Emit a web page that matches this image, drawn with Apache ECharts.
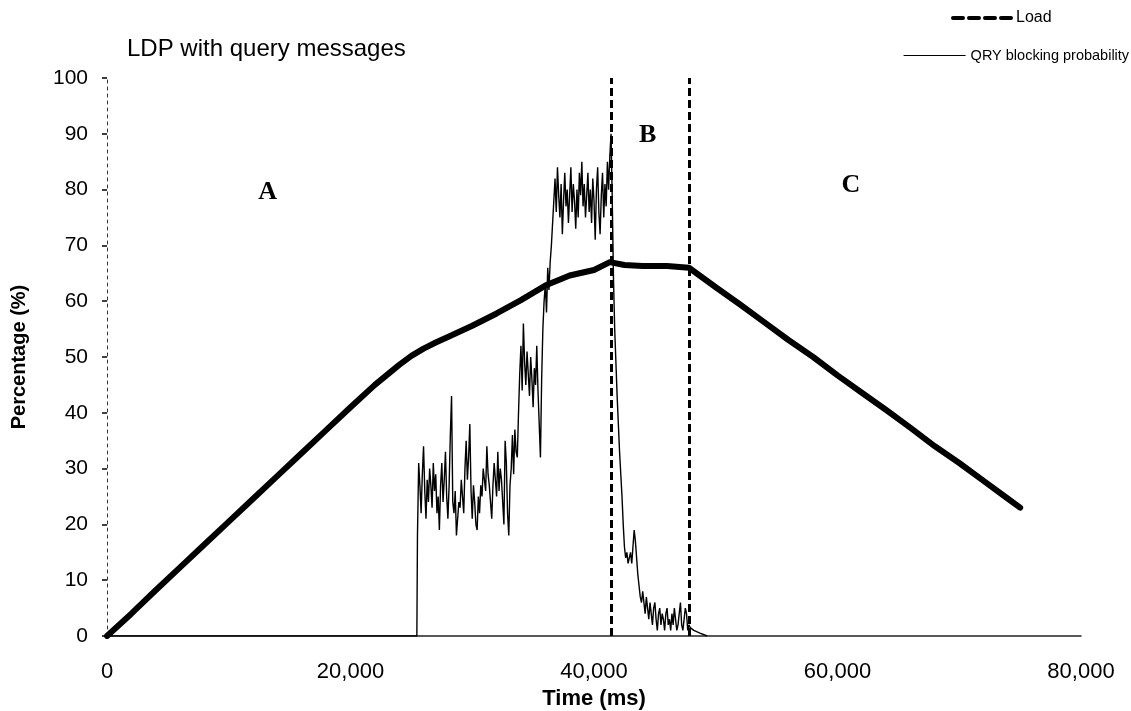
<!DOCTYPE html>
<html>
<head>
<meta charset="utf-8">
<script src="https://cdn.jsdelivr.net/npm/echarts@6/dist/echarts.min.js"></script>
<style>
html,body{margin:0;padding:0;background:#fff;}
#chart{width:1131px;height:711px;}
</style>
</head>
<body>
<div id="chart"></div>
<script>
// ---- Data ----
var loadTime = [0,2000,4000,6000,8000,10000,12000,14000,16000,18000,20000,22000,24000,25000,26000,27000,28000,30000,32000,34000,36000,38000,40000,41300,42500,44000,46000,47800,50000,52000,54000,56000,58000,60000,62000,64000,66000,68000,70000,72000,74000,75000];
var loadValue = [0,4,8.2,12.3,16.4,20.5,24.6,28.7,32.8,36.9,41,45,48.6,50.2,51.5,52.6,53.6,55.6,57.8,60.2,62.8,64.6,65.6,67,66.5,66.3,66.3,66,62.5,59.4,56.2,53,50,46.7,43.6,40.5,37.3,34,31,27.8,24.6,23];

var qryTime = [0,25450,25500,25600,25700,25800,25900,26000,26100,26200,26300,26400,26500,26600,26700,26800,26900,27000,27100,27200,27300,27400,27500,27600,27700,27800,27900,28000,28100,28200,28300,28400,28500,28600,28700,28800,28900,29000,29100,29200,29300,29400,29500,29600,29700,29800,29900,30000,30100,30200,30300,30400,30500,30600,30700,30800,30900,31000,31100,31200,31300,31400,31500,31600,31700,31800,31900,32000,32100,32200,32300,32400,32500,32600,32700,32800,32900,33000,33100,33200,33300,33400,33500,33600,33700,
33800,33900,34000,34100,34200,34300,34400,34500,34600,34700,34800,34900,35000,35100,35200,35300,35400,35500,35600,35700,35800,35900,36000,36100,36200,36300,36400,36500,
36600,36700,36800,36900,37000,37100,37200,37300,37400,37500,37600,37700,37800,37900,38000,38100,38200,38300,38400,38500,38600,38700,38800,38900,39000,39100,39200,39300,39400,39500,39600,39700,39800,39900,40000,40100,40200,40300,40400,40500,40600,40700,40800,40900,41000,41100,41200,41300,41400,
41500,41600,41700,41800,41900,42000,42100,42200,42300,42400,42500,42600,42700,42800,42900,43000,43100,43200,43300,43400,43500,43600,43700,43800,43900,44000,44100,44200,44300,44400,44500,44600,44700,44800,44900,45000,45100,45200,45300,45400,45500,45600,45700,45800,45900,46000,46100,46200,46300,46400,46500,46600,46700,46800,46900,47000,47100,47200,47300,47400,47500,47600,47700,47800,47900,48200,48700,49300];
var qryValue = [0,0,18,31,27,22,29,34,26,21,28,24,30,27,23,31,26,29,22,25,19,27,31,24,28,33,25,21,27,36,43,24,22,26,18,21,24,23,28,25,22,30,35,28,32,38,26,21,27,24,20,19,25,22,27,25,30,28,26,34,29,27,24,21,27,31,28,25,33,26,30,28,24,20,35,31,22,18,27,30,36,29,37,33,32,
40,47,52,44,56,49,45,51,47,43,50,46,41,48,45,52,44,38,32,46,55,60,63,58,66,62,67,70,
74,78,82,76,84,79,75,81,72,78,83,77,80,74,79,84,76,81,78,73,80,75,83,79,85,77,81,75,79,83,76,80,74,82,78,71,80,84,76,72,79,83,75,81,77,85,80,86,90,
78,64,55,49,43,38,33,29,25,20,16,14,15,13,14,15,13,16,19,17,14,11,9,7,6,8,6,4,7,5,3,6,4,2,5,6,3,1,4,5,2,4,3,1,4,5,2,3,1,4,2,5,3,1,2,4,6,2,1,3,5,4,1,2,1.5,1,0.5,0];

var phaseBounds = [41400, 47800];
var regionNames = ['A','B','C'];
var regionTime = [13200, 44400, 61100];
var regionValue = [79.6, 89.8, 80.8];

var xTicks = [0, 20000, 40000, 60000, 80000];

// ---- Build ----
function zip(a, b){ return a.map(function(v,i){ return [v, b[i]]; }); }

var chart = echarts.init(document.getElementById('chart'), null, {renderer:'canvas'});
var font = 'Liberation Sans, Arial, sans-serif';
chart.setOption({
  animation: false,
  backgroundColor: '#fff',
  color: ['#000', '#000', '#000'],
  title: {
    text: 'LDP with query messages',
    left: 122, top: 32,
    textStyle: {fontFamily: font, fontSize: 24, fontWeight: 'normal', color: '#000'}
  },
  legend: [
    {
      data: [{name: 'Load', lineStyle: {type: [10,6], width: 4, color: '#000'}, itemStyle: {opacity: 0, borderWidth: 0}}],
      left: 946, top: 5, itemWidth: 58, itemHeight: 14,
      textStyle: {fontFamily: font, fontSize: 16, color: '#000'}
    },
    {
      data: [{name: 'QRY blocking probability', lineStyle: {width: 1.2, color: '#000'}, itemStyle: {opacity: 0, borderWidth: 0}}],
      left: 898, top: 43, itemWidth: 62, itemHeight: 14,
      textStyle: {fontFamily: font, fontSize: 14.5, color: '#000'}
    }
  ],
  grid: {left: 107, right: 50, top: 78, bottom: 75, outerBoundsMode: 'none', containLabel: false},
  xAxis: {
    type: 'value', min: 0, max: 80000, interval: 20000,
    name: 'Time (ms)', nameLocation: 'middle', nameGap: 47,
    nameTextStyle: {fontFamily: font, fontSize: 22, fontWeight: 'bold', color: '#000'},
    axisLine: {show: true, lineStyle: {color: '#222', width: 1.5}},
    axisTick: {show: false},
    splitLine: {show: false},
    axisLabel: {
      fontFamily: font, fontSize: 22, color: '#000', margin: 25,
      formatter: function(v){ return xTicks.indexOf(v) >= 0 ? v.toLocaleString('en-US') : ''; }
    }
  },
  yAxis: {
    type: 'value', min: 0, max: 100, interval: 10,
    name: 'Percentage (%)', nameLocation: 'middle', nameGap: 78,
    nameTextStyle: {fontFamily: font, fontSize: 20, fontWeight: 'bold', color: '#000'},
    axisLine: {show: true, lineStyle: {color: '#333', width: 1, type: [3,4]}},
    axisTick: {show: true, length: 5, lineStyle: {color: '#000', width: 1.5}},
    splitLine: {show: false},
    axisLabel: {fontFamily: font, fontSize: 21, color: '#000', margin: 19}
  },
  series: [
    {
      name: 'Load', type: 'line', data: zip(loadTime, loadValue),
      showSymbol: false, symbol: 'none',
      lineStyle: {color: '#000', width: 6, join: 'round', cap: 'round'}, z: 3
    },
    {
      name: 'QRY blocking probability', type: 'line', data: zip(qryTime, qryValue),
      showSymbol: false, symbol: 'none',
      lineStyle: {color: '#000', width: 1.4}, z: 4,
      markLine: {
        silent: true, symbol: 'none',
        label: {show: false},
        lineStyle: {color: '#000', width: 3, type: [8,4]},
        data: phaseBounds.map(function(t){ return {xAxis: t}; })
      }
    },
    {
      name: 'regions', type: 'scatter', symbolSize: 0,
      data: regionTime.map(function(t,i){ return {value: [t, regionValue[i]], name: regionNames[i]}; }),
      label: {
        show: true, position: 'inside',
        formatter: function(p){ return p.name; },
        fontFamily: 'Liberation Serif, Times New Roman, serif',
        fontSize: 26, fontWeight: 'bold', color: '#000',
        textBorderWidth: 0, opacity: 1
      },
      itemStyle: {opacity: 1},
      silent: true, z: 5
    }
  ]
});
</script>
</body>
</html>
